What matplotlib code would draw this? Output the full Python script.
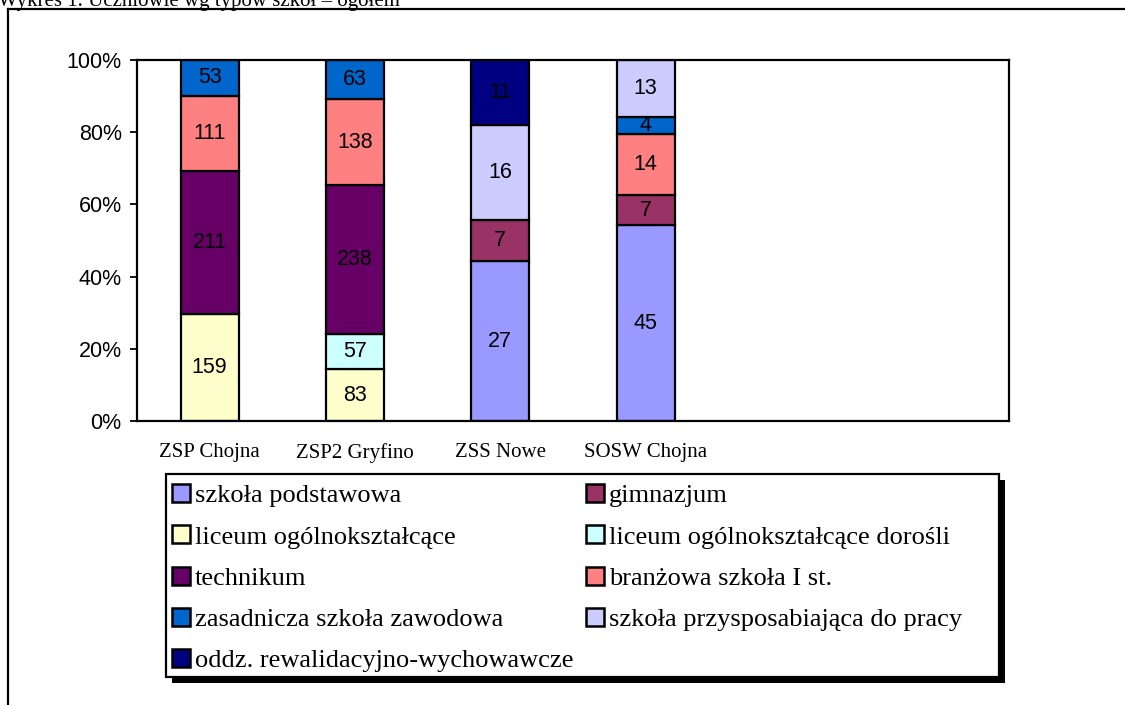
import numpy as np
import matplotlib.pyplot as plt
from matplotlib.patches import Rectangle
from matplotlib.lines import Line2D

# Data
schools = ['ZSP Chojna', 'ZSP2 Gryfino', 'ZSS Nowe', 'SOSW Chojna', '', '']
series = ['szkoła podstawowa', 'gimnazjum', 'liceum ogólnokształcące',
          'liceum ogólnokształcące dorośli', 'technikum', 'branżowa szkoła I st.',
          'zasadnicza szkoła zawodowa', 'szkoła przysposabiająca do pracy',
          'oddz. rewalidacyjno-wychowawcze']
podstawowa = [0, 0, 27, 45, 0, 0]
gimnazjum = [0, 0, 7, 7, 0, 0]
liceum = [159, 83, 0, 0, 0, 0]
liceum_dorosli = [0, 57, 0, 0, 0, 0]
technikum = [211, 238, 0, 0, 0, 0]
branzowa = [111, 138, 0, 14, 0, 0]
zasadnicza = [53, 63, 0, 4, 0, 0]
przysposabiajaca = [0, 0, 16, 13, 0, 0]
rewalidacyjne = [0, 0, 11, 0, 0, 0]
colors = ['#9999FF', '#993366', '#FFFFCC', '#CCFFFF', '#660066',
          '#FF8080', '#0066CC', '#CCCCFF', '#000080']

values = np.array([podstawowa, gimnazjum, liceum, liceum_dorosli, technikum,
                   branzowa, zasadnicza, przysposabiajaca, rewalidacyjne], dtype=float)
totals = values.sum(axis=0)
shares = np.divide(values, totals, out=np.zeros_like(values), where=totals > 0)

W, H = 1125, 705
fig = plt.figure(figsize=(W / 100, H / 100), dpi=100)
ax = fig.add_axes([137 / W, 1 - 421 / H, (1009 - 137) / W, (421 - 60) / H])

x = np.arange(len(schools))
bottom = np.zeros(len(schools))
for i, name in enumerate(series):
    # zero segments get no outline
    edges = ['black' if v > 0 else 'none' for v in values[i]]
    bars = ax.bar(x, shares[i], 0.4, bottom=bottom, color=colors[i],
                  edgecolor=edges, linewidth=1.6, label=name)
    for j, b in enumerate(bars):
        if values[i, j] > 0:
            ax.text(b.get_x() + b.get_width() / 2, bottom[j] + shares[i, j] / 2,
                    '%d' % values[i, j], ha='center', va='center',
                    fontsize=15.5, family='Liberation Sans', color='black')
    bottom += shares[i]

ax.set_xlim(-0.5, len(schools) - 0.5)
ax.set_ylim(0, 1)
ax.set_yticks(np.arange(0, 1.01, 0.2))
ax.set_yticklabels(['%d%%' % round(v * 100) for v in np.arange(0, 1.01, 0.2)],
                   family='Liberation Sans', fontsize=15.5)
ax.set_xticks(x)
ax.set_xticklabels(schools, family='Liberation Serif', fontsize=15)
ax.tick_params(axis='y', length=5, width=1.3, pad=6)
ax.tick_params(axis='x', length=0, pad=16)
for s in ax.spines.values():
    s.set_linewidth(1.6)

# legend, row-wise order
handles = [Rectangle((0, 0), 1, 1, facecolor=c, edgecolor='black', linewidth=1.8)
           for c in colors]
order = [0, 2, 4, 6, 8, 1, 3, 5, 7]
fig.legend([handles[k] for k in order], [series[k] for k in order],
           loc='upper left', bbox_to_anchor=(172 / W, 1 - 484 / H), ncol=2,
           frameon=False, borderaxespad=0, borderpad=0,
           prop={'family': 'Liberation Serif', 'size': 19},
           handlelength=0.68, handleheight=0.68, handletextpad=0.18,
           labelspacing=0.68, columnspacing=0.5)

# legend box with shadow
fig.add_artist(Rectangle((172 / W, 1 - 683 / H), (1005 - 172) / W, (683 - 480) / H,
                         transform=fig.transFigure, facecolor='black',
                         edgecolor='none', zorder=0))
fig.add_artist(Rectangle((166 / W, 1 - 677 / H), (999 - 166) / W, (677 - 474) / H,
                         transform=fig.transFigure, facecolor='white',
                         edgecolor='black', linewidth=1.6, zorder=0.5))

# outer frame and cut-off caption
fig.add_artist(Line2D([8 / W, 8 / W], [0, 1 - 9 / H], transform=fig.transFigure,
                      color='black', linewidth=1.6))
fig.add_artist(Line2D([8 / W, 1], [1 - 9 / H, 1 - 9 / H], transform=fig.transFigure,
                      color='black', linewidth=1.6))
fig.text(-2 / W, 1 - 6 / H, 'Wykres 1. Uczniowie wg typów szkół – ogółem',
         family='Liberation Serif', fontsize=15, va='baseline', ha='left')

fig.savefig('out.png', dpi=100)
